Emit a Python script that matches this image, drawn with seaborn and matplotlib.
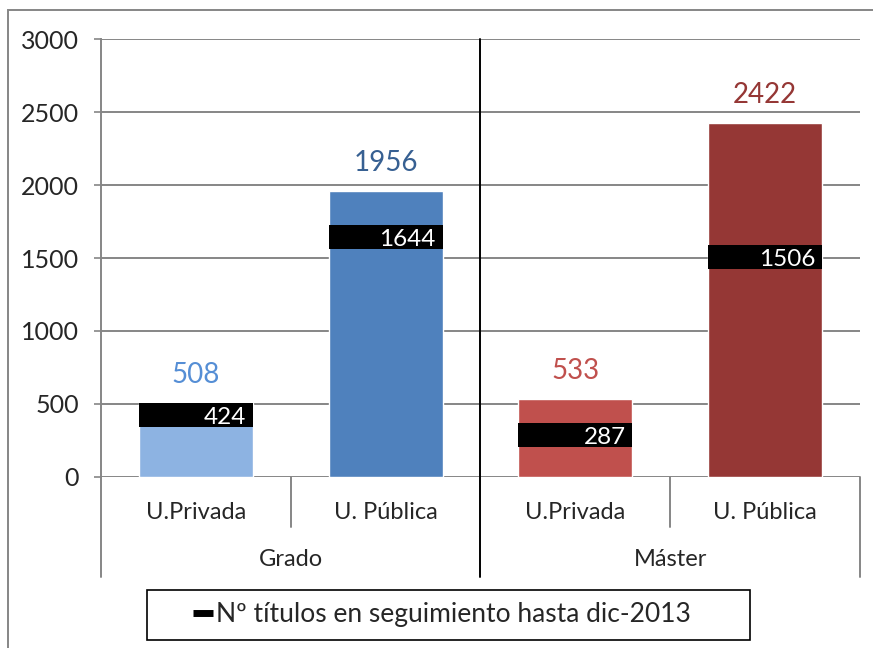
"""
Bar chart of offered degrees vs. titles under follow-up (Grado / Máster).
"""

import matplotlib
matplotlib.use('Agg')
import matplotlib.pyplot as plt
from matplotlib.lines import Line2D
from matplotlib.patches import Rectangle
import pandas as pd
import seaborn as sns

# Data
groups = ['Grado', 'Grado', 'Máster', 'Máster']
universities = ['U.Privada', 'U. Pública', 'U.Privada', 'U. Pública']
total_titles = [508, 1956, 533, 2422]
followed_titles = [424, 1644, 287, 1506]
bar_colors = ['#8DB3E2', '#4F81BD', '#C0504D', '#953735']
label_colors = ['#558ED5', '#376092', '#C0504D', '#953735']
y_ticks = [0, 500, 1000, 1500, 2000, 2500, 3000]
legend_label = 'Nº títulos en seguimiento hasta dic-2013'

df = pd.DataFrame({
    'key': [g + ' ' + u for g, u in zip(groups, universities)],
    'group': groups,
    'university': universities,
    'total': total_titles,
    'followed': followed_titles,
})

sns.set_style('white')
plt.rcParams['font.family'] = ['Lato', 'DejaVu Sans']

fig = plt.figure(figsize=(8.73, 6.48), dpi=100)
ax = fig.add_axes([0.1157, 0.2639, 0.8693, 0.6759])

sns.barplot(data=df, x='key', y='total', hue='key', palette=bar_colors,
            width=0.6, legend=False, saturation=1, ax=ax)

# Black dash markers sized to the bar width
dpi = fig.dpi
bar_px = 0.6 * ax.get_position().width * fig.get_figwidth() * dpi / len(df)
ax.plot(range(len(df)), df['followed'], linestyle='none', marker='_',
        markersize=bar_px * 72 / dpi, markeredgewidth=24 * 72 / dpi,
        color='black', zorder=3)

for i, row in df.iterrows():
    ax.annotate(str(row['total']), (i, row['total']), xytext=(0, 11),
                textcoords='offset points', ha='center', va='bottom',
                fontsize=20, color=label_colors[i])
    ax.annotate(str(row['followed']), (i + 0.265, row['followed']),
                xytext=(0, -2), textcoords='offset points', ha='right',
                va='center', fontsize=17.5, color='white', zorder=4)

ax.set_ylim(0, 3000)
ax.set_xlim(-0.5, len(df) - 0.5)
ax.set_yticks(y_ticks)
ax.yaxis.grid(True, color='#868686', linewidth=1.4)
ax.set_axisbelow(True)
ax.set_xlabel('')
ax.set_ylabel('')
ax.set_xticks(range(len(df)))
ax.set_xticklabels(df['university'])
ax.tick_params(axis='x', length=0, pad=18, labelsize=17)
ax.tick_params(axis='y', left=True, length=5, width=1.2, color='#868686',
               pad=11, labelsize=18)

for side in ['top', 'right', 'bottom']:
    ax.spines[side].set_visible(False)
ax.spines['left'].set_color('#868686')
ax.spines['left'].set_linewidth(1.4)

# Category separators below the axis
ax_h = ax.get_position().height * fig.get_figheight() * dpi
long_drop = -100 / ax_h
short_drop = -50 / ax_h
for x in [-0.5, 3.5]:
    ax.axvline(x, ymin=long_drop, ymax=0, color='#868686', lw=1.4, clip_on=False)
for x in [0.5, 2.5]:
    ax.axvline(x, ymin=short_drop, ymax=0, color='#868686', lw=1.4, clip_on=False)
ax.axvline(1.5, ymin=long_drop, ymax=1, color='black', lw=1.4, clip_on=False)

for g, pos in df.groupby('group', sort=False).groups.items():
    ax.text(sum(pos) / len(pos), -83 / ax_h, g, transform=ax.get_xaxis_transform(),
            ha='center', va='center', fontsize=17)

# Legend: frameless entry inside a wider fixed box
handle = Line2D([], [], color='black', marker='_', linestyle='none',
                markersize=14, markeredgewidth=5)
ax.legend([handle], [legend_label], loc='center',
          bbox_to_anchor=(0.451, -0.315), frameon=False,
          fontsize=19, handlelength=0.6, handletextpad=0.2,
          borderpad=0, borderaxespad=0)
ax.add_patch(Rectangle((0.0606, -0.372), 0.794, 0.114,
                       transform=ax.transAxes, fill=False, clip_on=False,
                       edgecolor='black', linewidth=1.2))

# Outer chart border (only top and left edges fall inside the image)
fig.patches.append(Rectangle((8 / 873, -0.1), 1.2, 0.1 + 638 / 648,
                             transform=fig.transFigure, fill=False,
                             edgecolor='#868686', linewidth=1.4))

fig.savefig('out.png', dpi=100)
plt.close(fig)
